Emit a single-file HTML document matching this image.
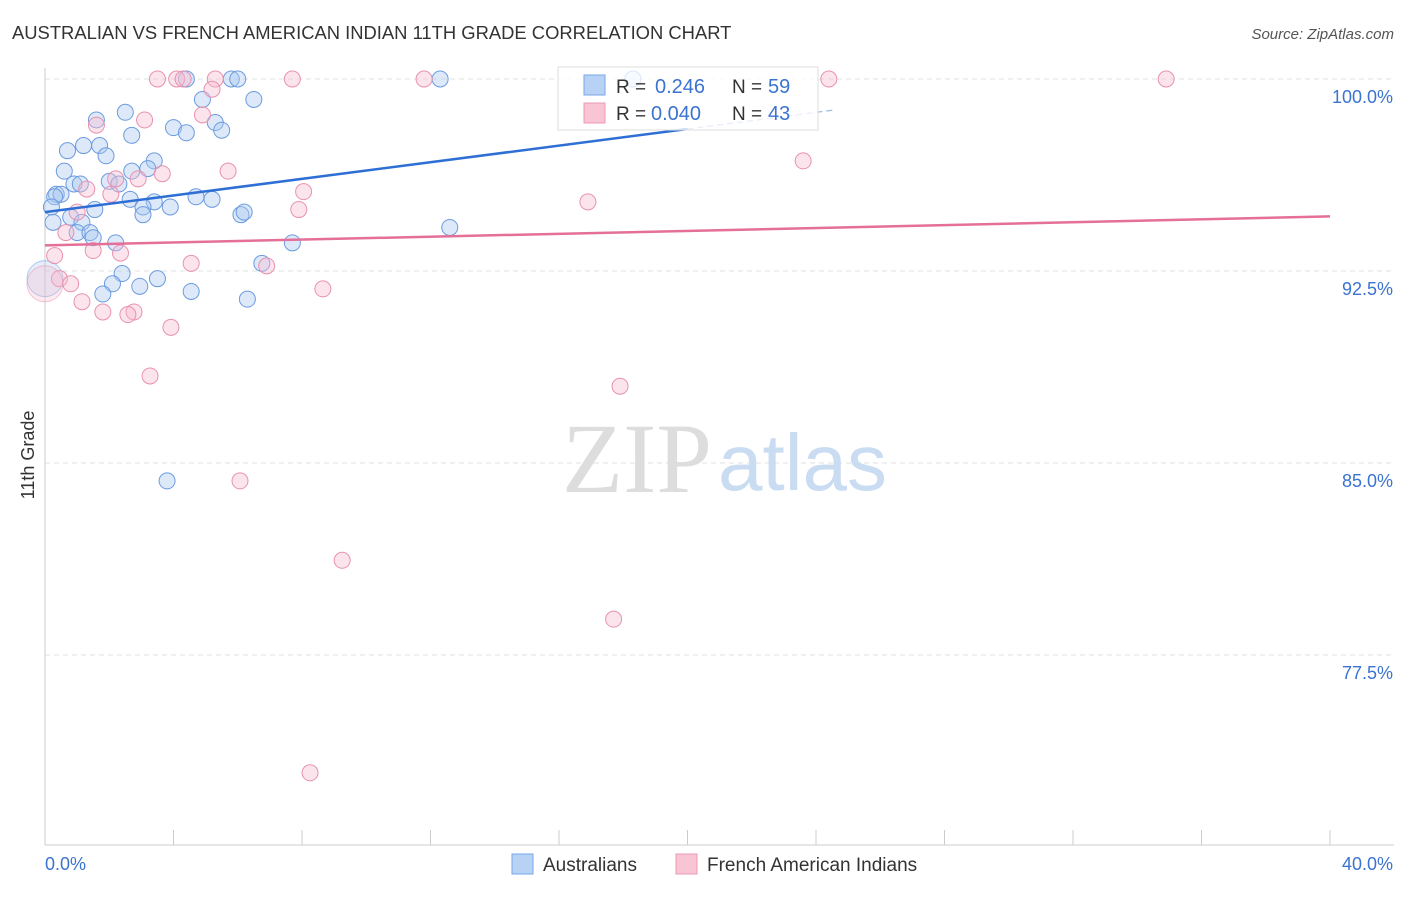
<!DOCTYPE html>
<html><head><meta charset="utf-8"><style>
body{margin:0;background:#fff;font-family:"Liberation Sans",sans-serif;}
svg text{font-family:"Liberation Sans",sans-serif;}
svg text.serif{font-family:"Liberation Serif",serif;}
</style></head><body>
<svg width="1406" height="892" xmlns="http://www.w3.org/2000/svg">
<text x="12" y="39" font-size="18.4" fill="#333">AUSTRALIAN VS FRENCH AMERICAN INDIAN 11TH GRADE CORRELATION CHART</text>
<text x="1394" y="39" font-size="15" fill="#555" text-anchor="end" font-style="italic">Source: ZipAtlas.com</text>
<g id="grid"></g>
<text class="serif" x="712" y="492" font-size="100" fill="#ddd" text-anchor="end">ZIP</text>
<text x="718" y="490" font-size="80" fill="#c9dcf2">atlas</text>
<g id="axes"></g>
<g id="marks"></g>
<text x="34" y="455" font-size="18" fill="#333" text-anchor="middle" transform="rotate(-90 34 455)">11th Grade</text>
<g>
<rect x="558" y="67" width="260" height="63" fill="#fff" fill-opacity="0.75" stroke="#ddd"/>
<rect x="584" y="75" width="21" height="20" fill="#b8d2f5" stroke="#7aa6e6"/>
<rect x="584" y="103" width="21" height="20" fill="#f9c4d4" stroke="#eb9ab4"/>
<text x="616" y="93" font-size="19" fill="#333">R =</text><text x="655" y="93" font-size="20" fill="#3b73d0">0.246</text>
<text x="732" y="93" font-size="19" fill="#333">N =</text><text x="768" y="93" font-size="20" fill="#3b73d0">59</text>
<text x="616" y="120" font-size="19" fill="#333">R =</text><text x="651" y="120" font-size="20" fill="#3b73d0">0.040</text>
<text x="732" y="120" font-size="19" fill="#333">N =</text><text x="768" y="120" font-size="20" fill="#3b73d0">43</text>
</g>
<g>
<rect x="512" y="854" width="21" height="20" fill="#b8d2f5" stroke="#7aa6e6"/>
<text x="543" y="871" font-size="19" fill="#333">Australians</text>
<rect x="676" y="854" width="21" height="20" fill="#f9c4d4" stroke="#eb9ab4"/>
<text x="707" y="871" font-size="19" fill="#333">French American Indians</text>
</g>
</svg>
<script>
const xTicks=[0,40];
const yTicks=[100,92.5,85,77.5];
const yLabels=["100.0%","92.5%","85.0%","77.5%"];
const blueX=[4.4,5.8,6.0,12.3,18.3,2.5,4.9,6.5,1.6,4.0,5.3,2.7,4.4,5.5,0.7,1.2,1.7,1.9,0.6,3.4,3.2,2.7,2.0,2.3,0.9,1.1,0.35,0.5,0.3,2.65,3.4,4.7,5.2,3.05,3.05,3.9,1.55,0.2,6.1,6.2,0.8,0.25,1.15,1.0,1.4,1.5,2.2,7.7,12.6,6.75,2.4,3.5,2.1,2.95,1.8,4.55,6.3,3.8,0.0];
const blueY=[100,100,100,100,100,98.7,99.2,99.2,98.4,98.1,98.3,97.8,97.9,98.0,97.2,97.4,97.4,97.0,96.4,96.8,96.5,96.4,96.0,95.9,95.9,95.9,95.5,95.5,95.4,95.3,95.2,95.4,95.3,95.0,94.7,95.0,94.9,95.0,94.7,94.8,94.6,94.4,94.4,94.0,94.0,93.8,93.6,93.6,94.2,92.8,92.4,92.2,92.0,91.9,91.6,91.7,91.4,84.3,92.2];
const pinkX=[3.5,4.1,4.3,5.3,7.7,11.8,24.4,34.9,5.2,4.9,1.6,3.1,5.7,3.65,2.9,2.2,1.3,2.05,8.05,7.9,16.9,23.6,1.0,0.65,1.5,2.35,0.3,4.55,6.9,8.65,0.45,0.8,1.15,1.8,2.77,2.58,3.92,3.27,17.9,6.07,9.25,17.7,8.25,0.0];
const pinkY=[100,100,100,100,100,100,100,100,99.6,98.6,98.2,98.4,96.4,96.3,96.1,96.1,95.7,95.5,95.6,94.9,95.2,96.8,94.8,94.0,93.3,93.2,93.1,92.8,92.7,91.8,92.2,92.0,91.3,90.9,90.9,90.8,90.3,88.4,88.0,84.3,81.2,78.9,72.9,92.0];
const X=v=>45+v*32.125, Y=v=>79+(100-v)*25.6;
const NS="http://www.w3.org/2000/svg";
function mk(t,a,p){const e=document.createElementNS(NS,t);for(const k in a)e.setAttribute(k,a[k]);p.appendChild(e);return e;}
const grid=document.getElementById('grid'),axes=document.getElementById('axes'),marks=document.getElementById('marks');
yTicks.forEach((v,i)=>{
 const l=mk('line',{x1:45,x2:1394,y1:Y(v),y2:Y(v),stroke:'#e2e2e2','stroke-dasharray':'5,4'},grid);
 
 
 const t=mk('text',{x:1393,y:Y(v)+24,'font-size':18,fill:'#3b73d0','text-anchor':'end'},axes);t.textContent=yLabels[i];
 
 
});
mk('line',{x1:45,x2:45,y1:68,y2:845,stroke:'#ccc'},axes);
mk('line',{x1:45,x2:1394,y1:845,y2:845,stroke:'#ccc'},axes);
for(let i=0;i<=10;i++){mk('line',{x1:X(i*4),x2:X(i*4),y1:830,y2:845,stroke:'#ccc'},axes);}
xTicks.forEach((v,i)=>{const t=mk('text',{x:i?1393:45,y:870,'font-size':18,fill:'#3b73d0','text-anchor':i?'end':'start'},axes);t.textContent=v.toFixed(1)+'%';
 
 });
function pts(xs,ys,fill,stroke,name){xs.forEach((x,i)=>{const big=i==xs.length-1;
 const c=mk('circle',{cx:X(x),cy:Y(ys[i]),r:big?18:8,fill:fill,'fill-opacity':big?0.3:0.4,stroke:stroke,'stroke-width':1,'stroke-opacity':big?0.5:1},marks);
 
 });}
pts(blueX,blueY,'#aac8f0','#6b9be0','point-australians');
pts(pinkX,pinkY,'#f7bcd0','#e892b0','point-french-american-indians');
const bA=94.8,bB=0.1624;
let l=mk('line',{x1:X(0),y1:Y(bA),x2:X(20),y2:Y(bA+bB*20),stroke:'#2e6fd6','stroke-width':2.5},marks);


l=mk('line',{x1:X(20),y1:Y(bA+bB*20),x2:X(24.6),y2:Y(bA+bB*24.6),stroke:'#9bb8e6','stroke-width':1.2,'stroke-dasharray':'6,4'},marks);


const pA=93.5,pB=0.0283;
l=mk('line',{x1:X(0),y1:Y(pA),x2:X(40),y2:Y(pA+pB*40),stroke:'#e46f98','stroke-width':2.5},marks);


</script>
</body></html>
